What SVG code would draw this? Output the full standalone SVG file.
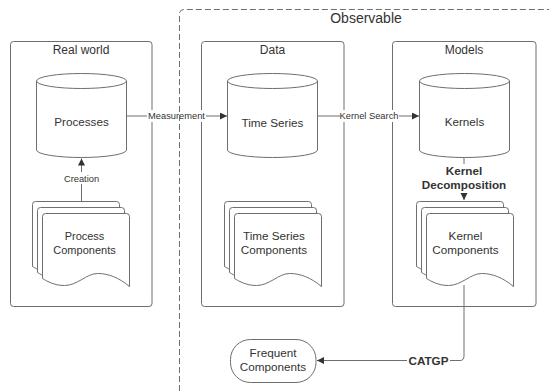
<svg xmlns="http://www.w3.org/2000/svg" width="549" height="391" viewBox="0 0 549 391">
<style>
.box{fill:#fff;stroke:#6e6e6e;stroke-width:1}
.shape{fill:#fff;stroke:#6e6e6e;stroke-width:1}
.line{fill:none;stroke:#6e6e6e;stroke-width:1}
.t{font-family:"Liberation Sans",Arial,sans-serif;fill:#333;text-anchor:middle}
.title{font-size:12px}
.node{font-size:11.7px}
.small{font-size:9.3px}
.bold{font-size:11.7px;font-weight:bold}
.lbl{fill:#fff;stroke:none}
</style>
<defs>
<path id="doc" d="M0,3 Q0,0 3,0 H84 Q87,0 87,3 V73 C76,64 66,60 55,60 C44,60 35,72 22,72 C12,72 5,68 0,65 Z"/>
<g id="stack">
<use href="#doc" x="-10" y="-12" class="shape"/>
<use href="#doc" x="-5" y="-6" class="shape"/>
<use href="#doc" x="0" y="0" class="shape"/>
</g>
<marker id="arr" markerUnits="userSpaceOnUse" markerWidth="8" markerHeight="8" refX="7" refY="3.5" orient="auto">
<path d="M0,0 L7,3.5 L0,7 Z" fill="#333"/>
</marker>
</defs>
<rect width="549" height="391" fill="#fff"/>

<g id="realworld">
<rect class="box" x="10.5" y="41.5" width="141.5" height="265" rx="3"/>
<text class="t title" x="81" y="54">Real world</text>
</g>
<g id="data">
<rect class="box" x="201.5" y="41.5" width="142.5" height="265" rx="3"/>
<text class="t title" x="272.5" y="53.5">Data</text>
</g>
<g id="models">
<rect class="box" x="392.5" y="41.5" width="143.5" height="265" rx="3"/>
<text class="t title" x="464" y="53.5">Models</text>
</g>

<g id="processes">
<path class="shape" d="M36.5,81 A45,7.5 0 0 1 126.5,81 V150 A45,7.5 0 0 1 36.5,150 Z"/>
<path class="line" d="M36.5,81 A45,7.5 0 0 0 126.5,81"/>
<text class="t node" x="81.5" y="126">Processes</text>
</g>
<g id="timeseries">
<path class="shape" d="M227.5,81 A45,7.5 0 0 1 317.5,81 V150 A45,7.5 0 0 1 227.5,150 Z"/>
<path class="line" d="M227.5,81 A45,7.5 0 0 0 317.5,81"/>
<text class="t node" x="272.5" y="126.5">Time Series</text>
</g>
<g id="kernels">
<path class="shape" d="M419.5,81 A45,7.5 0 0 1 509.5,81 V150 A45,7.5 0 0 1 419.5,150 Z"/>
<path class="line" d="M419.5,81 A45,7.5 0 0 0 509.5,81"/>
<text class="t node" x="464.5" y="126">Kernels</text>
</g>

<g id="processcomponents">
<use href="#stack" x="42.5" y="213.5"/>
<text class="t" style="font-size:11px" x="84.5" y="240">Process</text>
<text class="t" style="font-size:11px" x="84.5" y="254">Components</text>
</g>
<g id="timeseriescomponents">
<use href="#stack" x="234.5" y="213.5"/>
<text class="t node" x="274" y="240">Time Series</text>
<text class="t node" x="274" y="254">Components</text>
</g>
<g id="kernelcomponents">
<use href="#stack" x="426.5" y="213.5"/>
<text class="t node" x="465.5" y="240">Kernel</text>
<text class="t node" x="465.5" y="254">Components</text>
</g>
<g id="frequentcomponents">
<rect class="shape" x="230.5" y="339.5" width="85.5" height="43" rx="20"/>
<text class="t node" x="273" y="357">Frequent</text>
<text class="t node" x="273" y="371">Components</text>
</g>

<g id="connectors">
<path class="line" d="M126.5,116 H227" marker-end="url(#arr)"/>
<rect class="lbl" x="147" y="110" width="59" height="12"/>
<text class="t small" x="176.5" y="119">Measurement</text>

<path class="line" d="M317.5,116 H419" marker-end="url(#arr)"/>
<rect class="lbl" x="340" y="110" width="59" height="12"/>
<text class="t small" x="369" y="119">Kernel Search</text>

<path class="line" d="M81.5,201 V158.5" marker-end="url(#arr)"/>
<rect class="lbl" x="62" y="172" width="39" height="12"/>
<text class="t small" x="81.5" y="182">Creation</text>

<path class="line" d="M464,158 V200" marker-end="url(#arr)"/>
<rect class="lbl" x="421" y="164" width="86" height="29"/>
<text class="t bold" x="464" y="175">Kernel</text>
<text class="t bold" x="464" y="189">Decomposition</text>

<path class="line" d="M464,285 V356 Q464,360.5 460,360.5 H317" marker-end="url(#arr)"/>
<rect class="lbl" x="407" y="353" width="43" height="14"/>
<text class="t bold" x="428.5" y="364.5">CATGP</text>
</g>

<g id="observable">
<path d="M179.5,391 V14 Q179.5,9.5 184,9.5 H549" fill="none" stroke="#6e6e6e" stroke-width="1" stroke-dasharray="6 3"/>
<text class="t" style="font-size:14px" x="366" y="23">Observable</text>
</g>
</svg>
